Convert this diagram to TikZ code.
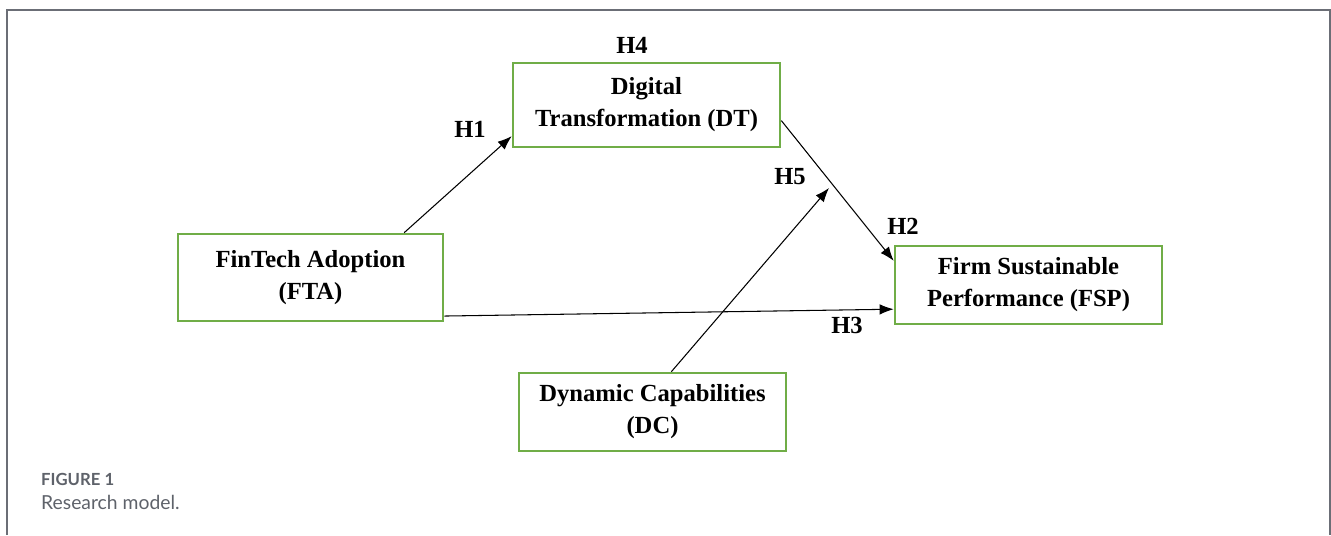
\documentclass[tikz,border=0pt]{standalone}
\usepackage{fontspec}
\setmainfont{Liberation Serif}
\newfontfamily\capfont{Lato}
\usetikzlibrary{arrows.meta,calc}

\definecolor{boxgreen}{HTML}{70AD47}
\definecolor{framegray}{HTML}{6B6E76}
\definecolor{capgray}{HTML}{5E626A}

\tikzset{
    construct/.style={draw=boxgreen, line width=1.5pt, align=center,
        font=\fontsize{14}{18.2}\selectfont\bfseries, minimum width=5.34cm},
    hyp/.style={font=\fontsize{14}{17}\selectfont\bfseries},
    path/.style={-{Latex[length=8pt,width=6pt]}, line width=0.6pt}
}

\begin{document}
\begin{tikzpicture}
    \useasboundingbox (0,0) rectangle (26.62,10.7);
    \draw[framegray, line width=0.8pt] (0.14,0) -- (0.14,10.5) -- (26.6,10.5) -- (26.6,0);

    \node[construct, minimum height=1.74cm, minimum width=5.3cm] (fta) at (6.21,5.15) {FinTech Adoption\\(FTA)};
    \node[construct, minimum height=1.68cm] (dt) at (12.93,8.6) {Digital\\Transformation (DT)};
    \node[construct, minimum height=1.56cm] (dc) at (13.05,2.46) {Dynamic Capabilities\\(DC)};
    \node[construct, minimum height=1.56cm] (fsp) at (20.57,5.0) {Firm Sustainable\\Performance (FSP)};

    \node[hyp] (h4) at (12.64,9.8) {H4};
    \node[hyp] (h1) at (9.4,8.12) {H1};
    \node[hyp] (h5) at (15.8,7.16) {H5};
    \node[hyp] (h2) at (18.06,6.18) {H2};
    \node[hyp] (h3) at (16.94,4.2) {H3};

    \coordinate (mod) at (16.58,6.94);

    \draw[path] ($(fta.north west)!0.85!(fta.north east)$) -- ($(dt.north west)!0.86!(dt.south west)$);
    \draw[path] ($(dt.north east)!0.68!(dt.south east)$) -- ($(fsp.north west)!0.2!(fsp.south west)$);
    \draw[path] ($(fta.north east)!0.93!(fta.south east)$) -- ($(fsp.north west)!0.8!(fsp.south west)$);
    \draw[path] ($(dc.north west)!0.57!(dc.north east)$) -- (mod);

    \node[anchor=west, capgray, font=\capfont\fontsize{9.5}{11}\selectfont\bfseries] (fig) at (0.7,1.12) {FIGURE 1};
    \node[anchor=west, capgray, font=\capfont\fontsize{11}{13}\selectfont] (cap) at (0.7,0.66) {Research model.};
\end{tikzpicture}
\end{document}
